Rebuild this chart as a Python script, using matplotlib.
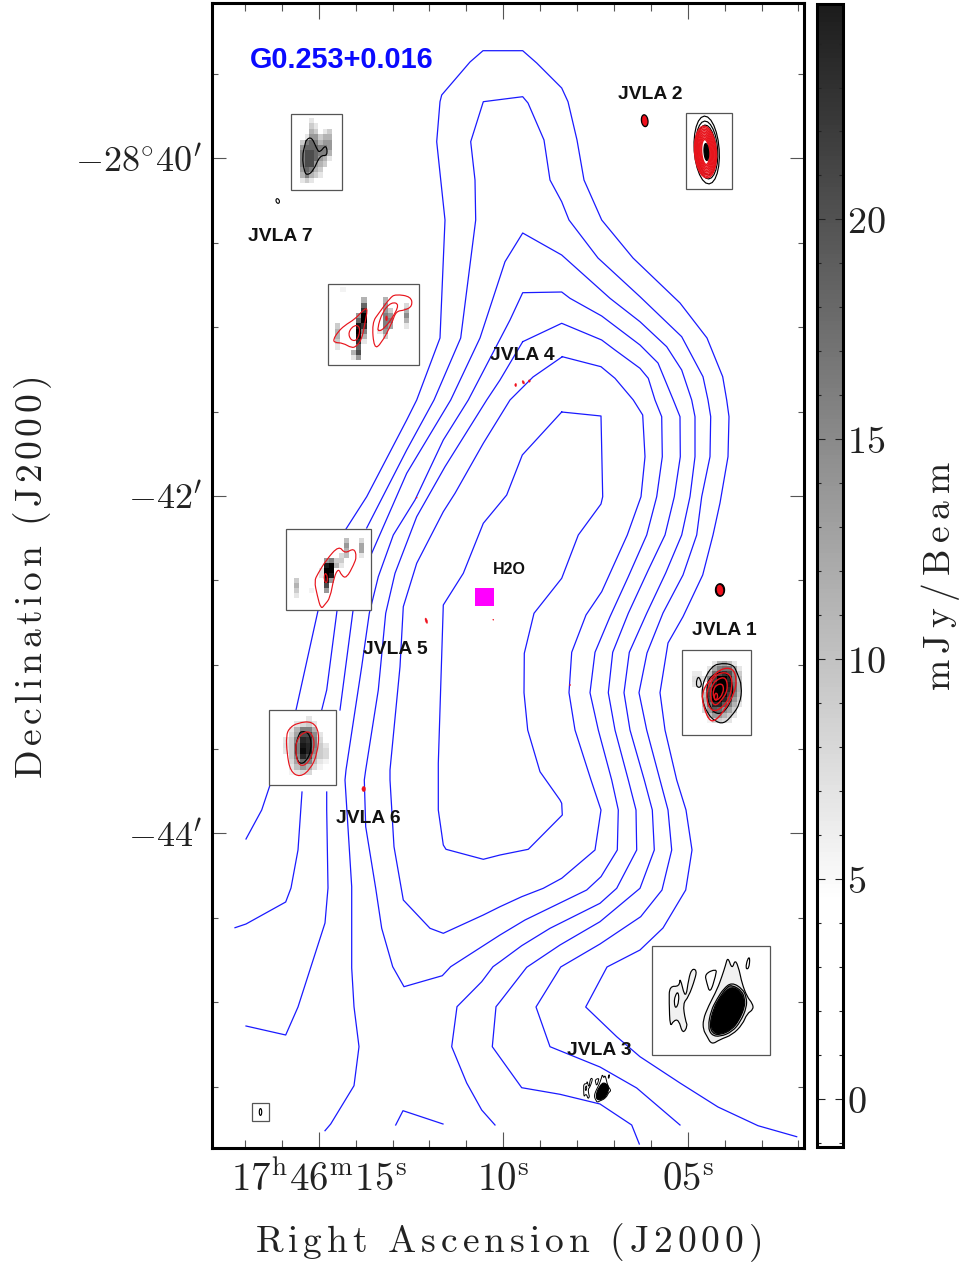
"""Water maser field G0.253+0.016: blue ammonia contours with JVLA source insets."""

import matplotlib

matplotlib.use("Agg")
import matplotlib.pyplot as plt
import numpy as np
from matplotlib.cm import ScalarMappable
from matplotlib.colors import LinearSegmentedColormap, Normalize
from matplotlib.patches import PathPatch, Rectangle
from matplotlib.path import Path
from matplotlib.ticker import FixedLocator, MultipleLocator

plt.rcParams["mathtext.fontset"] = "cm"

W, H = 959, 1265

# --- Digitised blue contours (picture pixels, converted by sky() below) -------
BLUE_A = [
    [(246, 839), (261.7, 810), (270.7, 783)],
    [(296, 710), (318, 610.7)],
    [(346, 529), (366.7, 496.7), (406.7, 420), (416.7, 400), (440, 338), (445, 220), (440, 173),
     (436.7, 141.7), (440, 101.7), (441.7, 95), (470, 62), (483, 50.7), (522.7, 50.7), (536.7, 63),
     (561.7, 88), (568, 101.7), (577, 140), (584, 180), (601.7, 220), (633, 258), (680, 303),
     (707, 338), (722.7, 376.7), (726.7, 400), (729, 416.7), (728, 456.7), (720, 503), (713, 535),
     (702.7, 575), (683, 616.7), (668, 643), (660, 692.7), (665, 730), (676.7, 780), (686, 810),
     (692, 850), (685.7, 890), (663, 928), (640, 950), (607, 967), (585.7, 1007), (616.7, 1036.7),
     (640, 1056.7), (680, 1083), (718, 1107), (758, 1125.7), (796.7, 1136.7)],
]
BLUE_B = [
    [(235, 927.7), (246, 924), (285.7, 902), (291, 888), (298, 850), (302, 792)],
    [(321.7, 710), (326.7, 690), (337, 610.7)],
    [(366.7, 528), (406.7, 450), (434, 400), (460.7, 338), (475.7, 220), (475, 180), (470.7, 141.7),
     (483.3, 101.7), (510, 98.3), (522.7, 96.7), (528, 103), (544, 140), (550, 180), (561.7, 201.7),
     (569, 220), (598, 258), (640, 296.7), (681.7, 336.7), (703, 376.7), (708, 400), (710.7, 416.7),
     (710, 456.7), (701.7, 496.7), (696.7, 535), (683, 575), (663, 613), (647, 653), (639, 692.7),
     (646.7, 730), (660, 780), (668, 810), (671.7, 850), (662, 890), (640.7, 916.7), (600, 944),
     (560.7, 967), (536, 1007), (550, 1046.7), (600, 1067), (636.7, 1088), (680, 1125)],
]
BLUE_C = [
    [(246, 1026), (285.7, 1035), (298, 1007), (325, 923), (328, 888), (326.7, 810), (326.7, 792)],
    [(340, 710), (353, 610.7)],
    [(371.7, 553.3), (406.7, 473.3), (450.7, 400), (480, 338), (505, 261.7), (522.7, 233), (561.7, 255),
     (610, 298.3), (640, 321.7), (666.7, 346.7), (681.7, 370), (691.7, 400), (695, 416.7), (695, 456.7),
     (690, 496.7), (681.7, 535), (665.7, 573), (646.7, 613.3), (629.3, 652.3), (624, 692.7), (630, 730),
     (644.3, 780), (652.3, 810), (654.3, 850), (640, 888.3), (600, 921.7), (560, 945), (526.7, 967.3),
     (500, 1001.7), (496, 1006.7), (492.3, 1046.7), (521.7, 1087.7), (560, 1094.3), (600, 1104),
     (631.7, 1125), (639.3, 1144)],
]
BLUE_D = [
    [(325, 1130.7), (330.7, 1124), (354, 1085.7), (359, 1046.7), (354, 1006.7), (351.7, 968),
     (351.7, 886.7), (345, 780), (346, 770), (361.7, 666.7), (369.3, 613.3), (378.3, 576.7), (393.3, 535),
     (415, 500), (443.3, 440), (468.3, 400), (510, 320), (522.7, 292.7), (561.7, 292), (570, 298.3),
     (601.7, 316), (640, 345), (658, 363), (673.3, 400), (680, 416.7), (680.3, 456.7), (674.3, 496.7),
     (665, 535), (648.3, 570), (628.3, 613.3), (612.7, 652.3), (608.3, 692.7), (615, 730), (628.3, 780),
     (636, 810), (636.7, 850), (616.7, 888.3), (600, 903.3), (550, 928.3), (521.7, 945.7), (500, 961.7),
     (493, 966.7), (481.7, 981.7), (457, 1006.7), (451.7, 1046.7), (466.7, 1083), (481.7, 1110), (495, 1125)],
]
BLUE_E = [
    [(522.7, 341.7), (561.7, 323.3), (601.7, 340), (615, 350), (640, 368.3), (648.3, 378.3), (655, 400),
     (661.7, 416.7), (662.3, 456.7), (656.7, 496.7), (646.7, 535), (628.3, 576.7), (610, 616.7), (595, 652.3),
     (590, 692.7), (598.3, 730), (611.7, 780), (618.3, 810), (617.3, 850), (601, 876.7), (586.7, 890),
     (525, 920), (500, 935), (450.7, 966.7), (442.3, 975.7), (404, 986.7), (392.7, 966.7), (381.7, 928.3),
     (375.7, 888.3), (365.7, 826.7), (364.3, 780), (365.7, 770), (378.3, 690), (385.7, 613.3), (395, 573.3),
     (416.7, 516.7), (445, 466.7), (486.7, 400), (500, 380), (522.7, 341.7)],
]
BLUE_F = [
    [(562.3, 356.7), (601, 366.7), (615, 378.3), (633.3, 400), (642.7, 415), (645, 456.7), (641, 496.7),
     (627.3, 535), (601.7, 591.7), (586, 615), (571.7, 652.3), (569, 692.7), (575, 730), (591, 780), (601, 810),
     (595, 850), (561.7, 878.3), (543.3, 888.3), (521.7, 896.7), (500, 906.7), (483.3, 915), (443.3, 933.3),
     (430, 928.3), (403.3, 900), (394, 846.7), (390, 780), (390, 770), (400, 666.7), (403.3, 606.7),
     (416.7, 563.3), (443.3, 511.7), (455, 493.3), (483.3, 443.3), (510, 400), (533, 377), (562.3, 356.7)],
]
BLUE_G = [
    [(561.7, 412), (601, 416), (602.7, 496.7), (601, 504), (578.3, 535), (561.7, 578.3), (534, 613.3),
     (524.3, 653.3), (524, 692.7), (527.7, 730), (540, 771.7), (560, 800), (561.7, 803.3), (562.3, 815),
     (528.3, 849.3), (500, 855), (483.3, 859.3), (446, 849.3), (443.3, 845), (438.3, 810), (438.3, 763.3),
     (443.3, 605), (463.3, 573.3), (483.3, 523.3), (506.7, 495), (522.3, 455), (561.7, 412)],
]
BLUE_H = [[(395.7, 1125), (403, 1110.7), (443, 1124)]]

# --- Inset boxes (left, right, top, bottom) -----------------------------------
BOX_7 = (291, 342.3, 114.3, 190)
BOX_4 = (328, 419.3, 284.3, 364.7)
BOX_5 = (286.3, 371, 528.7, 610.3)
BOX_6 = (268.7, 336, 710.3, 785.3)
BOX_2 = (685.7, 732, 113, 189)
BOX_1 = (682.3, 751.3, 650, 735)
BOX_3 = (652, 770.3, 946, 1055)
BOX_BEAM = (251.7, 269.3, 1103.3, 1121.3)

# --- Inset grey cells (darkness, 0 = white) -----------------------------------
GREY_7 = [
    [0, 0, .1, 0, 0, 0, 0],
    [0, 0, .2, .1, 0, 0, 0],
    [0, 0, .3, .2, 0, .1, .2],
    [0, .1, .4, .4, .2, .3, .3],
    [.2, .5, .6, .5, .3, .4, .4],
    [.4, .6, .6, .6, .5, .5, .4],
    [.5, .7, .7, .6, .5, .5, .3],
    [.5, .7, .7, .6, .4, .3, .1],
    [.5, .7, .7, .4, .3, .2, 0],
    [.4, .6, .5, .3, .2, 0, 0],
    [.3, .5, .3, .2, .1, 0, 0],
    [.1, .2, .1, 0, 0, 0, 0],
]
GREY_4 = [
    [0, .05, 0, 0, 0, 0, 0, 0, 0, 0, 0, 0, 0, 0],
    [0, 0, 0, 0, 0, 0, 0, 0, 0, 0, 0, 0, 0, 0],
    [0, 0, 0, 0, 0, .3, 0, 0, 0, .3, 0, 0, 0, 0],
    [0, 0, 0, 0, 0, .6, 0, 0, 0, .4, 0, 0, 0, .15],
    [0, 0, 0, 0, 0, .8, 0, 0, 0, .4, .2, 0, 0, .3],
    [0, 0, 0, 0, .4, 1, 0, 0, 0, .5, .4, 0, 0, .45],
    [0, 0, 0, 0, .6, 1, 0, 0, 0, .5, .5, 0, 0, .3],
    [.2, 0, 0, 0, .9, .8, 0, 0, 0, .5, .35, 0, 0, .1],
    [.3, 0, 0, 0, 1, .5, 0, 0, .1, .4, 0, 0, 0, 0],
    [.3, 0, 0, 0, .95, .3, 0, 0, 0, .2, 0, 0, 0, 0],
    [.2, 0, 0, 0, .8, .1, 0, 0, 0, 0, 0, 0, 0, 0],
    [.1, 0, 0, 0, .6, 0, 0, 0, 0, 0, 0, 0, 0, 0],
    [0, 0, 0, .3, .7, 0, 0, 0, 0, 0, 0, 0, 0, 0],
    [0, 0, 0, .1, .4, 0, 0, 0, 0, 0, 0, 0, 0, 0],
]
GREY_5 = [
    [0, 0, 0, 0, 0, 0, 0, 0, 0, 0, .25, 0, 0, .15],
    [0, 0, 0, 0, 0, 0, 0, 0, 0, 0, .4, 0, 0, .35],
    [0, 0, 0, 0, 0, 0, 0, 0, 0, 0, .3, 0, 0, .35],
    [0, 0, 0, 0, 0, 0, 0, 0, 0, .15, .25, 0, 0, .1],
    [0, 0, 0, 0, 0, 0, .4, .5, .2, .2, 0, 0, 0, 0],
    [0, 0, 0, 0, 0, 0, .9, 1, .3, .1, 0, 0, 0, 0],
    [0, 0, 0, 0, 0, .1, 1, 1, 0, 0, 0, 0, 0, 0],
    [0, 0, 0, 0, 0, .1, 1, .9, 0, 0, 0, 0, 0, 0],
    [.2, 0, 0, 0, 0, 0, .9, .4, 0, 0, 0, 0, 0, 0],
    [.3, 0, 0, 0, 0, 0, .7, 0, 0, 0, 0, 0, 0, 0],
    [.2, 0, 0, .05, 0, 0, .4, 0, 0, 0, 0, 0, 0, 0],
    [.1, 0, 0, 0, 0, 0, 0, 0, 0, 0, 0, 0, 0, 0],
]
GREY_6 = [
    [0, 0, 0, 0, .1, 0, 0, 0],
    [0, 0, .1, .15, .2, .1, 0, 0],
    [0, .1, .3, .5, .5, .3, 0, 0],
    [0, .15, .35, .7, .7, .45, .1, 0],
    [.1, .2, .45, .85, .8, .5, .15, 0],
    [.12, .2, .5, .9, .85, .5, .2, .1],
    [.1, .2, .5, .95, .85, .45, .2, .15],
    [0, .2, .45, .85, .7, .35, .2, .15],
    [0, .15, .35, .6, .5, .25, .1, .05],
    [0, .1, .25, .4, .3, .15, .05, 0],
    [0, .05, .1, .15, .15, 0, 0, 0],
]
GREY_1 = [
    [0, 0, 0, 0, .1, .3, .35, .25, .1, 0],
    [0, 0, 0, .1, .35, .5, .55, .55, .35, .1],
    [.08, .08, 0, .25, .55, .7, .8, .7, .45, .2],
    [.12, .12, .1, .45, .75, 1, 1, .85, .5, .25],
    [.1, .12, 0, .6, .9, 1, 1, .9, .55, .3],
    [0, 0, .15, .7, 1, 1, 1, .85, .55, .3],
    [0, 0, .25, .75, 1, 1, .95, .75, .5, .25],
    [0, 0, .3, .7, 1, 1, .85, .65, .4, .2],
    [0, 0, .25, .55, .85, .85, .65, .5, .3, .1],
    [0, 0, .15, .4, .65, .6, .45, .35, .2, 0],
    [0, 0, 0, .25, .4, .4, .3, .2, .1, 0],
    [0, 0, 0, .05, .15, .2, .15, .1, 0, 0],
]

# --- Inset outlines, as read on 3x crops of the picture -----------------------
OUT_7_BLACK = [(290, 420), (305, 415), (320, 445), (330, 455), (347, 438), (350, 465), (330, 470),
               (310, 510), (292, 523), (283, 510), (278, 470), (285, 435)]
OUT_4_RED = [
    [(18, 165), (22, 175), (45, 178), (70, 190), (85, 185), (100, 165), (110, 120), (117, 75), (100, 85),
     (80, 105), (50, 125), (30, 145)],
    [(63, 145), (80, 125), (95, 133), (88, 165), (70, 167)],
    [(140, 185), (135, 120), (155, 85), (185, 45), (205, 33), (245, 40), (250, 65), (230, 78), (205, 85),
     (190, 120), (160, 175)],
    [(150, 130), (165, 85), (190, 58), (210, 65), (190, 105), (170, 130), (155, 140)],
    [(174, 98), (177, 98), (177, 108), (174, 108)],
]
OUT_5_RED = [
    [(333, 622), (322, 585), (315, 545), (325, 520), (350, 480), (385, 443), (405, 458), (430, 448), (438, 470),
     (430, 495), (410, 530), (395, 525), (385, 510), (372, 535), (360, 590), (345, 612)],
    [(345, 520), (352, 530), (350, 548), (343, 540)],
]
OUT_6_RED = [
    [(265, 970), (305, 968), (325, 1000), (320, 1060), (300, 1105), (270, 1127), (243, 1110), (232, 1060),
     (230, 1010), (240, 985)],
    [(285, 997), (305, 1003), (312, 1040), (295, 1085), (270, 1095), (258, 1060), (262, 1020)],
]
OUT_6_BLACK = [(275, 995), (298, 1005), (302, 1050), (285, 1085), (265, 1085), (257, 1045), (265, 1010)]
OUT_1_BLACK = [
    [(88, 55), (110, 42), (150, 45), (165, 70), (178, 110), (172, 160), (150, 195), (125, 218), (100, 212),
     (78, 190), (62, 150), (62, 110), (72, 80)],
    [(48, 82), (55, 90), (58, 107), (48, 112), (43, 100)],
    [(80, 90), (105, 70), (135, 72), (150, 100), (150, 140), (130, 180), (105, 190), (85, 170), (75, 130)],
]
OUT_1_RED = [
    [(115, 60), (150, 58), (162, 90), (155, 130), (130, 175), (100, 210), (80, 205), (65, 165), (62, 130), (80, 95)],
    [(105, 75), (135, 70), (150, 95), (140, 145), (115, 175), (90, 180), (75, 150), (80, 110)],
    [(105, 90), (130, 85), (135, 120), (118, 150), (98, 165), (85, 140), (90, 110)],
    [(105, 105), (122, 105), (122, 130), (105, 150), (95, 140), (95, 120)],
    [(100, 130), (107, 135), (103, 150), (97, 145)],
]
OUT_3_PALE = [
    [(155, 250), (155, 220), (170, 180), (195, 130), (210, 90), (220, 60), (228, 38), (240, 65), (250, 45),
     (262, 75), (270, 110), (285, 150), (300, 172), (302, 190), (285, 205), (270, 235), (240, 265), (205, 280),
     (180, 292), (165, 270)],
    [(55, 125), (80, 120), (85, 100), (100, 150), (110, 100), (120, 72), (132, 75), (128, 100), (110, 150),
     (95, 175), (100, 220), (105, 240), (92, 258), (80, 225), (65, 225), (55, 235), (52, 170)],
    [(70, 150), (78, 140), (80, 165), (72, 185), (67, 170)],
    [(162, 85), (190, 72), (190, 90), (175, 135), (165, 110)],
    [(287, 40), (293, 38), (290, 65), (282, 65)],
]
OUT_3_CORE = [
    [(170, 240), (178, 195), (195, 160), (215, 130), (240, 113), (270, 130), (282, 155), (282, 185), (265, 225),
     (240, 255), (205, 270), (180, 265)],
    [(175, 235), (185, 190), (203, 155), (225, 125), (242, 120), (268, 136), (277, 160), (276, 185), (260, 222),
     (238, 250), (205, 265), (183, 260)],
    [(178, 230), (190, 185), (210, 150), (238, 125), (265, 140), (275, 170), (265, 210), (240, 245), (205, 262),
     (185, 255)],
]

# JVLA 2 rings: half width, half height in pixels
RINGS_2_BLACK = [(12.5, 34), (11, 29), (9.5, 25)]
RINGS_2_RED = [(11, 26), (10.2, 24.5), (9.4, 23), (8.6, 21.5), (7.8, 20), (7, 18.5), (6.2, 17), (5.4, 15.5),
               (4.6, 14), (3.8, 12.5)]

# Compact sources on the map: x, y, half width, half height, tilt
SPOTS_RED = [(644.7, 120.7, 2.4, 5, 8), (720, 590, 3, 5, 8), (363.7, 789, 1.8, 2.6, 0),
             (426.3, 620.7, 1, 2.8, 18), (416.7, 497.7, .5, .5, 0), (493.3, 619.7, .5, .5, 0),
             (570, 685, .6, .6, 0), (515.7, 385, .9, 1.6, 0), (523.3, 382.3, 1, 1.8, 25), (529.3, 381, 1, 1.2, 0)]
SPOTS_BLACK = [(644.7, 120.7, 3.3, 6, 8), (720, 590, 4.6, 6.3, 0)]

LABELS = ["JVLA 7", "JVLA 2", "JVLA 4", "JVLA 5", "JVLA 6", "JVLA 1", "JVLA 3"]
LABEL_X = [280, 650.5, 522, 395.8, 368.3, 724.7, 599.7]
LABEL_Y = [236.5, 94.5, 355.5, 649.2, 818.2, 631, 1050.5]

RA_MAJOR = [15, 10, 5]
RA_LABELS = [r"$17^{\mathrm{h}}46^{\mathrm{m}}15^{\mathrm{s}}$", r"$10^{\mathrm{s}}$", r"$05^{\mathrm{s}}$"]
DEC_MAJOR = [-44, -42, -40]
DEC_LABELS = [r"$-44^{\prime}$", r"$-42^{\prime}$", r"$-28^{\circ}40^{\prime}$"]
CBAR_TICKS = [0, 5, 10, 15, 20]


def ra(px):
    return 15 - (np.asarray(px, dtype=float) - 318.7) / 36.9


def dec(py):
    return -40 - (np.asarray(py, dtype=float) - 158.5) / 168.75


def sky(points):
    pts = np.asarray(points, dtype=float)
    return np.column_stack([ra(pts[:, 0]), dec(pts[:, 1])])


def crop(points, x0, y0):
    return [(x0 + x / 3, y0 + y / 3) for x, y in points]


def spaced(text, gap):
    parts = [r"\ " if c == " " else c for c in text]
    return r"$\mathrm{" + (r"\hspace{%s}" % gap).join(parts) + "}$"


def outline(points, color="black", lw=0.85, face="none", z=6):
    pts = sky(points)
    pts = pts + 0.125 * (2 * pts - np.roll(pts, 1, axis=0) - np.roll(pts, -1, axis=0))
    mids = (pts + np.roll(pts, -1, axis=0)) / 2
    verts = [mids[-1]]
    codes = [Path.MOVETO]
    for p, m in zip(pts, mids):
        verts += [p, m]
        codes += [Path.CURVE3, Path.CURVE3]
    ax.add_patch(PathPatch(Path(verts, codes), facecolor=face, edgecolor=color, lw=lw, zorder=z))


def ellipse(x, y, a, b, tilt, color, face="none", lw=0.85, z=6):
    t = np.radians(np.arange(0, 360, 15))
    c, s = np.cos(np.radians(tilt)), np.sin(np.radians(tilt))
    ex, ey = a * np.cos(t), b * np.sin(t)
    pts = np.column_stack([x + ex * c + ey * s, y - ex * s + ey * c])
    ax.fill(*sky(pts).T, facecolor=face, edgecolor=color, lw=lw, zorder=z)


def box(b, z=4):
    left, right, top, bottom = b
    ax.add_patch(Rectangle((ra(left), dec(bottom)), ra(right) - ra(left), dec(top) - dec(bottom),
                           facecolor="white", edgecolor="#555555", lw=0.9, zorder=z))


def grey(cells, x0, x1, y0, y1):
    ax.imshow(cells, cmap="gray_r", vmin=0, vmax=1, aspect="auto", interpolation="nearest", zorder=5,
              extent=(ra(x0), ra(x1), dec(y1), dec(y0)))


fig = plt.figure(figsize=(W / 100, H / 100), dpi=100)
ax = fig.add_axes([212 / W, 1 - 1148 / H, (804 - 212) / W, (1148 - 3) / H])

# --- Blue contours ------------------------------------------------------------
for contour in (BLUE_A, BLUE_B, BLUE_C, BLUE_D, BLUE_E, BLUE_F, BLUE_G, BLUE_H):
    for piece in contour:
        xy = sky(piece)
        ax.plot(xy[:, 0], xy[:, 1], color="#1a1aff", lw=0.9, zorder=2)

# --- Inset panels -------------------------------------------------------------
for b in (BOX_7, BOX_4, BOX_5, BOX_6, BOX_2, BOX_1, BOX_3, BOX_BEAM):
    box(b)

grey(GREY_7, 300, 331.7, 118.3, 183.3)
outline(crop(OUT_7_BLACK, 210, 0))

grey(GREY_4, 334.7, 408, 287.3, 360)
for r in OUT_4_RED:
    outline(crop(r, 328, 284), color="#e8141c")

grey(GREY_5, 294, 364, 538.3, 598.3)
for r in OUT_5_RED:
    outline(crop(r, 210, 400), color="#e8141c")

grey(GREY_6, 283.3, 328.3, 716.7, 775)
outline(crop(OUT_6_BLACK, 210, 400))
for r in OUT_6_RED:
    outline(crop(r, 210, 400), color="#e8141c")

grey(GREY_1, 692, 742, 661.7, 723.3)
for r in OUT_1_BLACK:
    outline(crop(r, 682, 650))
for r in OUT_1_RED:
    outline(crop(r, 682, 650), color="#e8141c", lw=1.0)

for a, b in RINGS_2_BLACK:
    ellipse(706.7, 150, a, b, 4, "black")
for a, b in RINGS_2_RED:
    ellipse(705.5, 152, a, b, 4, "#e8141c", lw=1.0)
ellipse(706.3, 152, 2.3, 8.5, 4, "black", face="black")

for i, r in enumerate(OUT_3_PALE):
    outline(crop(r, 652, 946), face="#f1f1f1" if i in (0, 1) else "white")
for i, r in enumerate(OUT_3_CORE):
    outline(crop(r, 652, 946), face=("#cccccc", "#666666", "black")[i])

# same source at its true place on the map, about a third of the inset size
for r in OUT_3_PALE:
    pts = np.array(crop(r, 652, 946))
    outline(np.column_stack([602.7 + (pts[:, 0] - 728.7) * 0.32, 1091.7 + (pts[:, 1] - 1011) * 0.32]), lw=0.7, z=3)
pts = np.array(crop(OUT_3_CORE[0], 652, 946))
outline(np.column_stack([602.7 + (pts[:, 0] - 728.7) * 0.32, 1091.7 + (pts[:, 1] - 1011) * 0.32]), face="black", z=3)

ellipse(260.5, 1112, 1.2, 3.4, 0, "black", z=6)
ellipse(277.7, 201, 1.6, 2.4, 20, "black", lw=0.8, z=3)

for x, y, a, b, tilt in SPOTS_BLACK:
    ellipse(x, y, a, b, tilt, "black", face="black", z=3)
for x, y, a, b, tilt in SPOTS_RED:
    ellipse(x, y, a, b, tilt, "#f0101c", face="#f0101c", lw=0.3, z=3)

ax.add_patch(Rectangle((ra(475), dec(606)), ra(493.5) - ra(475), dec(587.7) - dec(606),
                       facecolor="#ff00ff", edgecolor="none", zorder=3))

# --- Labels -------------------------------------------------------------------
sans = dict(family="Liberation Sans", fontweight="bold", ha="center", va="center", zorder=7)
for name, x, y in zip(LABELS, LABEL_X, LABEL_Y):
    ax.text(ra(x), dec(y), name, fontsize=13.9, color="#111111", **sans)
ax.text(ra(509), dec(570), "H2O", fontsize=11.5, color="#111111", **sans)
ax.text(ra(341.5), dec(60), "G0.253+0.016", fontsize=20.8, color="#0a0aff", **sans)

# --- Axes ---------------------------------------------------------------------
ax.set_xlim(ra(212), ra(804))
ax.set_ylim(dec(1148), dec(3))
ax.xaxis.set_major_locator(FixedLocator(RA_MAJOR))
ax.xaxis.set_minor_locator(MultipleLocator(1))
ax.yaxis.set_major_locator(FixedLocator(DEC_MAJOR))
ax.yaxis.set_minor_locator(MultipleLocator(0.5))
ax.set_xticklabels(RA_LABELS)
ax.set_yticklabels(DEC_LABELS)
ax.tick_params(axis="x", which="major", direction="in", top=True, length=11.5, width=0.8, color="#555555",
               labelsize=28, labelcolor="#222222", pad=9)
ax.tick_params(axis="x", which="minor", direction="in", top=True, length=5.5, width=0.8, color="#555555")
ax.tick_params(axis="y", which="major", direction="in", right=True, length=10, width=0.8, color="#555555",
               labelsize=26, labelcolor="#222222", pad=7)
ax.tick_params(axis="y", which="minor", direction="in", right=True, length=4.3, width=0.8, color="#555555")
for spine in ax.spines.values():
    spine.set_linewidth(2.2)

fig.text(508 / W, 1 - 1243 / H, spaced("Right Ascension (J2000)", 0.15), fontsize=27, color="#222222",
         ha="center", va="center")
fig.text(32.5 / W, 1 - 578 / H, spaced("Declination (J2000)", 0.14), fontsize=27, color="#222222",
         rotation=90, ha="center", va="center")

# --- Colour bar ---------------------------------------------------------------
cax = fig.add_axes([817 / W, 1 - 1147 / H, (843 - 817) / W, (1147 - 4) / H])
cmap = LinearSegmentedColormap.from_list("beam", [(0, "white"), (5.6 / 26, "white"), (1, "#1c1c1c")])
cb = fig.colorbar(ScalarMappable(Normalize(-1.1, 24.9), cmap), cax=cax)
cb.set_ticks(CBAR_TICKS)
cb.set_ticklabels([rf"${t}$" for t in CBAR_TICKS])
cb.ax.yaxis.set_minor_locator(MultipleLocator(1))
cb.ax.tick_params(which="major", direction="in", left=True, right=True, length=6, width=0.8, color="#222222",
                  labelsize=27.5, labelcolor="#222222", pad=3)
cb.ax.tick_params(which="minor", direction="in", left=True, right=True, length=3, width=0.8, color="#222222")
cb.outline.set_linewidth(2.2)
fig.text(940 / W, 1 - 576 / H, spaced("mJy/Beam", 0.2), fontsize=27, color="#222222", rotation=90,
         ha="center", va="center")

fig.savefig("out.png", dpi=100)
